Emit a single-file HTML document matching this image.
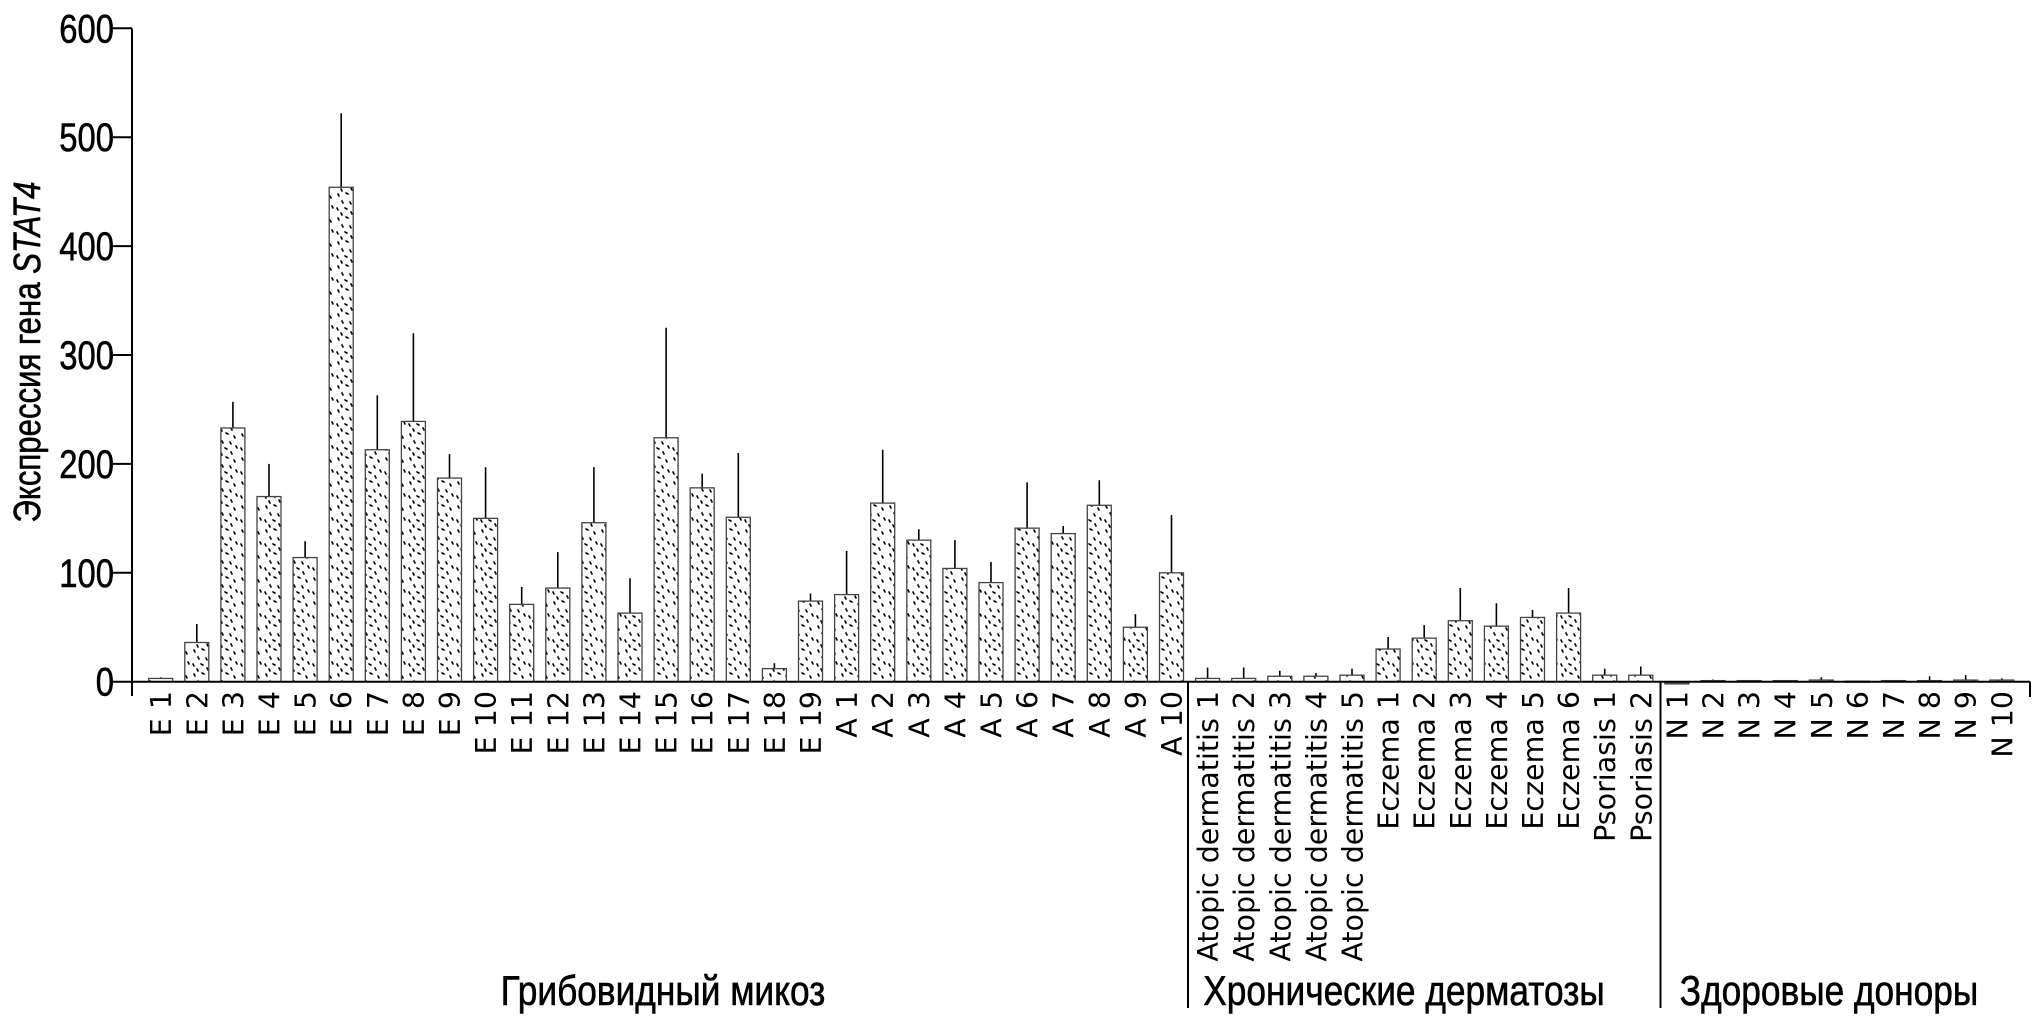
<!DOCTYPE html>
<html><head><meta charset="utf-8"><style>
html,body{margin:0;padding:0;background:#fff;}
svg{display:block;}
</style></head><body>
<svg id="s" width="2032" height="1017" xmlns="http://www.w3.org/2000/svg">
<defs>
<pattern id="dots" width="24" height="24" patternUnits="userSpaceOnUse">
<rect width="24" height="24" fill="#fff"/>
<g stroke="#000" stroke-width="1.6" stroke-linecap="round">
<line x1="2" y1="2" x2="3" y2="4"/><line x1="10" y1="1" x2="12" y2="2"/><line x1="18" y1="4" x2="19" y2="6"/>
<line x1="6" y1="9" x2="7" y2="11"/><line x1="14" y1="10" x2="15" y2="12"/>
<line x1="1" y1="16" x2="2" y2="18"/><line x1="9" y1="16" x2="11" y2="17"/><line x1="20" y1="14" x2="21" y2="16"/>
<line x1="5" y1="21" x2="6" y2="23"/><line x1="15" y1="20" x2="16" y2="22"/>
</g>
</pattern>
</defs>
</svg>
<script>
var s=document.getElementById('s');var NS='http://www.w3.org/2000/svg';
function el(t,a,txt){var e=document.createElementNS(NS,t);for(var k in a)e.setAttribute(k,a[k]);if(txt!==undefined)e.textContent=txt;s.appendChild(e);return e;}
var y0=681.7,k=1.089,x0=132;
function Y(v){return y0-v*k;}
var data=[["E 1",3,4],["E 2",36,53],["E 3",233,257],["E 4",170,200],["E 5",114,129],["E 6",454,522],["E 7",213,263],["E 8",239,320],["E 9",187,209],["E 10",150,197],["E 11",71,87],["E 12",86,119],["E 13",146,197],["E 14",63,95],["E 15",224,325],["E 16",178,191],["E 17",151,210],["E 18",12,17],["E 19",74,81],["A 1",80,120],["A 2",164,213],["A 3",130,140],["A 4",104,130],["A 5",91,110],["A 6",141,183],["A 7",136,143],["A 8",162,185],["A 9",50,62],["A 10",100,153],
["Atopic dermatitis 1",3,13],["Atopic dermatitis 2",3,13],["Atopic dermatitis 3",5,10],["Atopic dermatitis 4",5,8],["Atopic dermatitis 5",6,12],["Eczema 1",30,41],["Eczema 2",40,52],["Eczema 3",56,86],["Eczema 4",51,72],["Eczema 5",59,66],["Eczema 6",63,86],["Psoriasis 1",6,12],["Psoriasis 2",6,14],
["N 1",-2,0],["N 2",1,2],["N 3",1,1],["N 4",1,1],["N 5",1.5,4],["N 6",0.5,0.5],["N 7",1,1],["N 8",1,5],["N 9",1.5,6],["N 10",1.5,3]];
var sp=36.1,c0=160.7,bw=24;
data.forEach(function(d,i){var cx=c0+i*sp;
 if(d[2]>d[1])el('line',{x1:cx,y1:Y(d[1]),x2:cx,y2:Y(d[2]),stroke:'#000','stroke-width':1.6});
 var t=Math.min(Y(d[1]),y0),h=Math.abs(Y(d[1])-y0);
 el('rect',{x:cx-bw/2,y:t,width:bw,height:Math.max(h,1),fill:d[1]<0?'#666':'url(#dots)',stroke:'#444','stroke-width':1.3});
 el('text',{x:0,y:0,transform:'translate('+(cx+10.5)+',691) rotate(-90)','text-anchor':'end','font-family':'DejaVu Sans, sans-serif','font-size':28.5},d[0]);
});
el('line',{x1:x0,y1:28.5,x2:x0,y2:696,stroke:'#000','stroke-width':2});
el('line',{x1:x0,y1:y0,x2:2030,y2:y0,stroke:'#000','stroke-width':2});
el('line',{x1:2030,y1:y0,x2:2030,y2:697,stroke:'#000','stroke-width':2});
var cf={'font-family':'Liberation Sans, sans-serif',stroke:'#000','stroke-width':0.6};
function ct(tr,size,anchor,txt){var a={x:0,y:0,transform:tr,'text-anchor':anchor,'font-size':size};for(var q in cf)a[q]=cf[q];return el('text',a,txt);}
for(var v=0;v<=600;v+=100){var y=Y(v);el('line',{x1:113,y1:y,x2:x0,y2:y,stroke:'#000','stroke-width':2});
 ct('translate(114,'+(y+14)+') scale(0.82,1)',40,'end',String(v));}
var yl=ct('translate(40,352) rotate(-90) scale(0.82,1)',38,'middle','');
yl.innerHTML='Экспрессия гена <tspan font-style="italic">STAT4</tspan>';
[1188,1660.5].forEach(function(x){el('line',{x1:x,y1:y0,x2:x,y2:1008,stroke:'#000','stroke-width':2});});
[[663,'Грибовидный микоз'],[1404,'Хронические дерматозы'],[1829,'Здоровые доноры']].forEach(function(g){
 ct('translate('+g[0]+',1005) scale(0.84,1)',42,'middle',g[1]);});
</script>
</body></html>
